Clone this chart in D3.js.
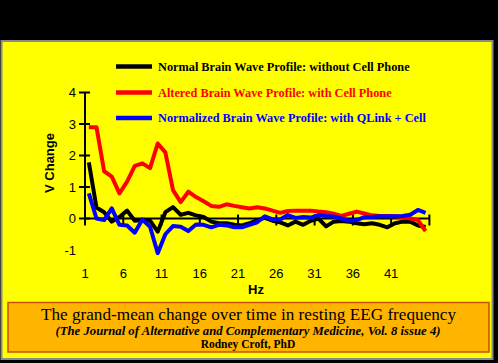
<!DOCTYPE html>
<html><head><meta charset="utf-8">
<script src="https://cdn.jsdelivr.net/npm/d3@7/dist/d3.min.js"></script>
<style>html,body{margin:0;padding:0;background:#000;}svg{display:block;}</style>
</head><body>
<svg id="chart" width="498" height="363"></svg>
<script>
const categories = d3.range(1, 46);
const tickLabels = ["1","6","11","16","21","26","31","36","41"];
const yTicks = [-1, 0, 1, 2, 3, 4];

const normal = [1.78,0.35,0.2,-0.1,0.05,0.25,-0.07,-0.05,-0.07,-0.42,0.2,0.36,0.12,0.18,0.1,0.05,-0.1,-0.15,-0.15,-0.2,
  -0.22,-0.15,-0.05,0.02,-0.07,-0.12,-0.22,-0.1,-0.2,-0.07,0.0,-0.25,-0.1,-0.08,-0.1,-0.15,-0.18,-0.15,-0.2,-0.28,
  -0.15,-0.1,-0.1,-0.22,-0.27];
const altered = [2.9,2.9,1.5,1.33,0.8,1.17,1.67,1.75,1.6,2.38,2.1,0.9,0.52,0.85,0.68,0.55,0.4,0.37,0.45,0.4,
  0.36,0.32,0.36,0.32,0.25,0.18,0.24,0.25,0.25,0.25,0.22,0.2,0.15,0.08,0.15,0.22,0.16,0.1,0.08,0.08,
  0.07,0.05,0.0,-0.05,-0.4];
const normalized = [0.8,0.0,-0.05,0.32,-0.2,-0.22,-0.45,-0.03,-0.26,-1.1,-0.5,-0.24,-0.26,-0.4,-0.19,-0.2,-0.28,-0.2,-0.22,-0.28,
  -0.28,-0.2,-0.12,0.07,-0.03,-0.03,0.11,0.02,0.05,0.03,0.11,0.08,0.06,0.0,-0.07,-0.05,0.04,0.05,0.07,0.07,
  0.07,0.08,0.12,0.27,0.18];

const seriesNames = ["Normal Brain Wave Profile: without Cell Phone",
  "Altered Brain Wave Profile: with Cell Phone",
  "Normalized Brain Wave Profile: with QLink + Cell"];
const seriesColors = ["#000000", "#ff0000", "#0000ff"];
const seriesData = [normal, altered, normalized];

const caption1 = "The grand-mean change over time in resting EEG frequency";
const caption2 = "(The Journal of Alternative and Complementary Medicine, Vol. 8 issue 4)";
const caption3 = "Rodney Croft, PhD";

const svg = d3.select("#chart");

// background panel
svg.append("rect").attr("x", 0).attr("y", 0).attr("width", 498).attr("height", 363).attr("fill", "#000");
svg.append("rect").attr("x", 1.5).attr("y", 41).attr("width", 491).attr("height", 318)
  .attr("fill", "#ffff00").attr("stroke", "#8a8a8a").attr("stroke-width", 2);

const x = d3.scaleBand().domain(categories).range([85, 429.4]).padding(0);
const y = d3.scaleLinear().domain([-1, 4]).range([250, 92.5]);
const cx = k => x(k) + x.bandwidth() / 2;

// axes
const axisG = svg.append("g").attr("stroke", "#000").attr("stroke-width", 2);
axisG.append("line").attr("x1", x.range()[0]).attr("x2", x.range()[0])
  .attr("y1", y(4)).attr("y2", y(0) + 6);
yTicks.filter(v => v >= 0).forEach(v => {
  axisG.append("line").attr("x1", x.range()[0] - 6).attr("x2", x.range()[0] + 5)
    .attr("y1", y(v)).attr("y2", y(v));
});
axisG.append("line").attr("x1", x.range()[0]).attr("x2", x.range()[1])
  .attr("y1", y(0)).attr("y2", y(0));
const tickCats = tickLabels.map(Number);
const tickPos = tickCats.map(k => x(k)).concat([x.range()[1]]);
tickPos.forEach(p => {
  axisG.append("line").attr("x1", p).attr("x2", p).attr("y1", y(0) - 4).attr("y2", y(0) + 7);
});

svg.append("g").selectAll("text").data(yTicks).join("text")
  .attr("x", 76).attr("y", d => y(d)).attr("dy", "0.36em")
  .attr("text-anchor", "end")
  .attr("font-family", "Liberation Sans, Arial, sans-serif").attr("font-size", 13)
  .text(d => d);

svg.append("g").selectAll("text").data(tickLabels).join("text")
  .attr("x", d => x(+d)).attr("y", 273).attr("dy", "0.36em")
  .attr("text-anchor", "middle")
  .attr("font-family", "Liberation Sans, Arial, sans-serif").attr("font-size", 13)
  .text(d => d);

svg.append("text").attr("transform", "translate(54,163) rotate(-90)")
  .attr("text-anchor", "middle")
  .attr("font-family", "Liberation Sans, Arial, sans-serif").attr("font-size", 13).attr("font-weight", "bold")
  .text("V Change");

svg.append("text").attr("x", 256).attr("y", 294)
  .attr("text-anchor", "middle")
  .attr("font-family", "Liberation Sans, Arial, sans-serif").attr("font-size", 13).attr("font-weight", "bold")
  .text("Hz");

// lines
const line = d3.line().x((d, i) => cx(categories[i])).y(d => y(d));
seriesData.forEach((s, i) => {
  svg.append("path").datum(s).attr("d", line)
    .attr("fill", "none").attr("stroke", seriesColors[i]).attr("stroke-width", 4)
    .attr("stroke-linejoin", "round");
});

// legend
const legendY = [66.5, 92.5, 118];
seriesNames.forEach((n, i) => {
  svg.append("line").attr("x1", 116).attr("x2", 152).attr("y1", legendY[i]).attr("y2", legendY[i])
    .attr("stroke", seriesColors[i]).attr("stroke-width", 4.5);
  svg.append("text").attr("x", 158).attr("y", legendY[i]).attr("dy", "0.35em")
    .attr("font-family", "Liberation Serif, Times New Roman, serif").attr("font-size", 12.3)
    .attr("font-weight", "bold").attr("fill", seriesColors[i])
    .text(n);
});

// caption box
svg.append("rect").attr("x", 8).attr("y", 302.5).attr("width", 481).attr("height", 49.5)
  .attr("fill", "#ffb400").attr("stroke", "#c8500a").attr("stroke-width", 1.5);
svg.append("text").attr("x", 248.5).attr("y", 319.5).attr("text-anchor", "middle")
  .attr("font-family", "Liberation Serif, Times New Roman, serif").attr("font-size", 17.2)
  .attr("fill", "#000").text(caption1);
svg.append("text").attr("x", 248).attr("y", 335).attr("text-anchor", "middle")
  .attr("font-family", "Liberation Serif, Times New Roman, serif").attr("font-size", 12)
  .attr("font-style", "italic").attr("font-weight", "bold")
  .attr("textLength", 385).attr("lengthAdjust", "spacingAndGlyphs")
  .attr("fill", "#000").text(caption2);
svg.append("text").attr("x", 248).attr("y", 347.5).attr("text-anchor", "middle")
  .attr("font-family", "Liberation Serif, Times New Roman, serif").attr("font-size", 11.5)
  .attr("font-weight", "bold")
  .attr("fill", "#000").text(caption3);
</script>
</body></html>
